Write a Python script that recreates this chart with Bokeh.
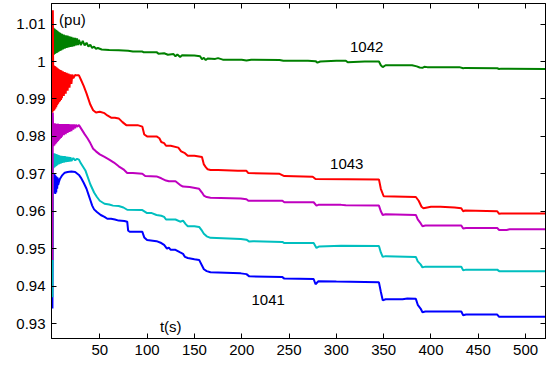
from bokeh.plotting import figure
from bokeh.models import Range1d, LinearAxis, FixedTicker
from bokeh.core.properties import value
from bokeh.embed import file_html
from bokeh.resources import INLINE

# ---------------- data ----------------
x_ticks = [50, 100, 150, 200, 250, 300, 350, 400, 450, 500]
y_ticks = [0.93, 0.94, 0.95, 0.96, 0.97, 0.98, 0.99, 1.0, 1.01]

t_1042 = [0, 0.5, 1, 1.5, 2, 2.5, 3, 3.5, 4, 4.5, 5, 5.5, 6, 6.5, 7, 7.5, 8, 8.5, 9, 9.5, 10,
          11, 12, 13, 14, 15, 16, 17, 18, 19, 20, 21, 22, 23, 24, 25, 26, 27, 28, 30, 32, 34, 36, 38, 40, 42, 44, 46, 48, 52,
          60, 70, 80, 85, 95, 96, 110, 112, 118, 122, 128, 130, 132, 135, 137,
          150, 156, 158, 160, 162, 164, 172, 175, 180, 200, 205, 210, 240, 244, 270, 278, 280, 283, 300, 310, 312, 318, 330,
          345, 347, 349, 352, 380, 385, 388, 391, 393, 396, 430, 434, 436, 470, 472, 474, 521]
v_1042 = [1.0090, 1.0017, 1.0090, 1.0018, 1.0088, 1.0020, 1.0086, 1.0022, 1.0084, 1.0023, 1.0082, 1.0025, 1.0080, 1.0026,
          1.0078, 1.0028, 1.0077, 1.0029, 1.0075, 1.0030, 1.0074,
          1.0032, 1.0072, 1.0034, 1.0070, 1.0036, 1.0069, 1.0038, 1.0067, 1.0039, 1.0066, 1.0040, 1.0064, 1.0041, 1.0063,
          1.0043, 1.0062, 1.0044, 1.0058, 1.0044, 1.0055, 1.0043, 1.0050, 1.0040, 1.0045, 1.0036, 1.0040, 1.0034, 1.0036,
          1.0032,
          1.0031, 1.0030, 1.0029, 1.0027, 1.0027, 1.0025, 1.0025, 1.0021, 1.0022, 1.0018, 1.0020, 1.0014, 1.0019, 1.0012,
          1.0017,
          1.0016, 1.0014, 1.0006, 1.0010, 1.0004, 1.0008, 1.0007, 1.0009, 1.0005, 1.0005, 1.0003, 1.0005, 1.0004, 1.0002,
          1.0002, 1.0001, 0.9997, 1.0000, 1.0002, 1.0002, 0.9998, 0.9999, 1.0000,
          1.0000, 0.9990, 0.9985, 0.9990, 0.9990, 0.9987, 0.9984, 0.9983, 0.9986, 0.9985, 0.9985, 0.9982, 0.9983,
          0.9982, 0.9980, 0.9981, 0.9980]

t_1043 = [0, 0.4, 1, 1.5, 2, 2.5, 3, 3.5, 4, 4.5, 5, 5.5, 6, 6.5, 7, 7.5, 8, 8.5, 9, 9.5, 10,
          11, 12, 13, 14, 15, 16, 17, 18, 19, 20, 21, 22, 24, 26, 28, 30, 33, 36, 40, 43, 46, 50, 55, 58, 62,
          66, 70, 74, 78, 90, 95, 97, 100,
          110, 113, 115, 118, 120, 125, 133, 136, 140, 143, 150, 158, 160, 162, 164, 167, 175, 196, 205, 207, 240, 245,
          275, 278, 345, 347, 350, 384, 387, 390, 392, 400, 410, 425, 432, 434, 436, 470, 472, 474, 521]
v_1043 = [0.9863, 1.0137, 0.9868, 0.9989, 0.9870, 0.9988, 0.9874, 0.9986, 0.9878, 0.9984, 0.9883, 0.9982, 0.9887, 0.9980,
          0.9891, 0.9978, 0.9894, 0.9977, 0.9897, 0.9976, 0.9902,
          0.9974, 0.9908, 0.9972, 0.9914, 0.9970, 0.9922, 0.9968, 0.9930, 0.9966, 0.9940, 0.9965, 0.9955, 0.9964, 0.9963,
          0.9963, 0.9952, 0.9935, 0.9915, 0.9885, 0.9870, 0.9864, 0.9866, 0.9862, 0.9856, 0.9850,
          0.9850, 0.9848, 0.9838, 0.9830, 0.9830, 0.9826, 0.9805, 0.9800,
          0.9800, 0.9795, 0.9785, 0.9782, 0.9775, 0.9775, 0.9770, 0.9760, 0.9755, 0.9748, 0.9748, 0.9745, 0.9725, 0.9718,
          0.9712, 0.9710, 0.9710, 0.9708, 0.9708, 0.9702, 0.9700, 0.9694, 0.9692, 0.9686, 0.9685, 0.9660, 0.9640,
          0.9638, 0.9628, 0.9612, 0.9608, 0.9612, 0.9612, 0.9610, 0.9608, 0.9600, 0.9602, 0.9600, 0.9593, 0.9594, 0.9594]

t_mag = [0, 0.4, 1, 1.5, 2, 2.5, 3, 3.5, 4, 4.5, 5, 5.5, 6, 6.5, 7, 7.5, 8, 8.5, 9, 9.5, 10,
         11, 12, 13, 14, 15, 16, 17, 18, 19, 20, 21, 22, 23, 24, 25, 26, 28, 30, 34, 37, 40, 43, 46, 50, 55,
         60, 65, 70, 75, 79, 85, 95, 98, 110, 115, 120, 123,
         130, 135, 138, 145, 155, 158, 160, 163, 167, 199, 205, 207, 243, 245, 276, 279, 281, 305, 310, 345, 347, 349,
         352, 384, 386, 389, 391, 394, 432, 434, 437, 470, 472, 480, 483, 521]
v_mag = [0.9470, 0.9863, 0.9774, 0.9835, 0.9776, 0.9835, 0.9779, 0.9834, 0.9782, 0.9834, 0.9785, 0.9834, 0.9788, 0.9833,
         0.9791, 0.9833, 0.9794, 0.9833, 0.9796, 0.9833, 0.9799,
         0.9833, 0.9803, 0.9833, 0.9806, 0.9833, 0.9809, 0.9833, 0.9812, 0.9832, 0.9814, 0.9832, 0.9818, 0.9832, 0.9822,
         0.9831, 0.9826, 0.9830, 0.9822, 0.9806, 0.9795, 0.9782, 0.9767, 0.9760, 0.9752, 0.9745,
         0.9738, 0.9730, 0.9720, 0.9712, 0.9702, 0.9702, 0.9700, 0.9694, 0.9693, 0.9688, 0.9682, 0.9680,
         0.9680, 0.9670, 0.9666, 0.9665, 0.9660, 0.9650, 0.9642, 0.9638, 0.9636, 0.9634, 0.9632, 0.9628, 0.9628, 0.9624,
         0.9624, 0.9615, 0.9617, 0.9617, 0.9616, 0.9615, 0.9600, 0.9590,
         0.9592, 0.9590, 0.9578, 0.9568, 0.9560, 0.9562, 0.9562, 0.9554, 0.9555, 0.9555, 0.9550, 0.9550, 0.9552, 0.9552]

t_cyan = [0, 0.4, 1, 1.5, 2, 2.5, 3, 3.5, 4, 4.5, 5, 5.5, 6, 6.5, 7, 7.5, 8, 8.5, 9, 9.5, 10,
          11, 12, 13, 14, 15, 16, 17, 18, 19, 20, 22, 24, 26, 28, 30, 35, 40, 44, 47, 50, 55,
          60, 64, 70, 75, 79, 95, 100, 105, 110, 115, 118,
          120, 130, 135, 138, 141, 143, 150, 155, 158, 160, 163, 167, 199, 205, 208, 212, 243, 245, 276, 279, 282, 305,
          345, 347, 349, 352, 384, 386, 389, 391, 394, 432, 434, 437, 470, 472, 521]
v_cyan = [0.9370, 0.9755, 0.9715, 0.9755, 0.9717, 0.9754, 0.9719, 0.9753, 0.9721, 0.9752, 0.9723, 0.9751, 0.9725, 0.9750,
          0.9726, 0.9749, 0.9727, 0.9748, 0.9728, 0.9748, 0.9729,
          0.9747, 0.9730, 0.9747, 0.9731, 0.9746, 0.9732, 0.9745, 0.9733, 0.9744, 0.9734, 0.9742, 0.9736, 0.9740, 0.9738,
          0.9728, 0.9708, 0.9672, 0.9650, 0.9638, 0.9628, 0.9620,
          0.9618, 0.9615, 0.9614, 0.9610, 0.9604, 0.9603, 0.9595, 0.9595, 0.9590, 0.9588, 0.9585,
          0.9578, 0.9578, 0.9572, 0.9575, 0.9565, 0.9560, 0.9560, 0.9558, 0.9548, 0.9540, 0.9533, 0.9529, 0.9526, 0.9524,
          0.9519, 0.9520, 0.9518, 0.9515, 0.9515, 0.9502, 0.9506, 0.9508,
          0.9507, 0.9490, 0.9478, 0.9480, 0.9478, 0.9466, 0.9458, 0.9450, 0.9452, 0.9452, 0.9442, 0.9444, 0.9444, 0.9440,
          0.9440]

t_1041 = [0, 0.4, 1, 1.5, 2, 2.5, 3, 3.5, 4, 4.5, 5, 5.5, 6, 7, 8, 10, 13, 16, 20, 24, 28, 30, 33, 36, 38, 40, 42, 44,
          47, 51, 55, 58, 62, 66, 70, 76, 79, 80, 82, 95, 97, 100,
          110, 115, 118, 121, 123, 125, 130, 135, 138, 140, 143, 150, 155, 158, 160, 163, 167, 199, 205, 208, 243, 245,
          276, 278, 281, 300, 345, 347, 349, 352, 370, 375, 384, 386, 389, 391, 394, 432, 434, 437, 470, 472, 521]
v_1041 = [0.9340, 0.9700, 0.9650, 0.9700, 0.9648, 0.9698, 0.9646, 0.9695, 0.9650, 0.9692, 0.9660, 0.9690, 0.9670,
          0.9680, 0.9687, 0.9695, 0.9703, 0.9705, 0.9706, 0.9705, 0.9697, 0.9690, 0.9676, 0.9660, 0.9645, 0.9630, 0.9615,
          0.9605, 0.9598, 0.9590, 0.9585, 0.9580, 0.9580, 0.9578, 0.9575, 0.9574, 0.9572, 0.9548, 0.9545, 0.9545, 0.9530,
          0.9523,
          0.9520, 0.9515, 0.9510, 0.9500, 0.9503, 0.9497, 0.9497, 0.9490, 0.9486, 0.9478, 0.9475, 0.9472, 0.9470, 0.9455,
          0.9445, 0.9440, 0.9437, 0.9434, 0.9432, 0.9426, 0.9424, 0.9420,
          0.9419, 0.9405, 0.9413, 0.9412, 0.9410, 0.9385, 0.9362, 0.9365, 0.9365, 0.9367, 0.9366, 0.9350, 0.9340, 0.9330,
          0.9332, 0.9332, 0.9322, 0.9324, 0.9324, 0.9318, 0.9318]

label_text = ["1042", "1043", "1041"]
label_x = [332, 311, 228]
label_y = [1.0038, 0.9725, 0.9364]

unit_text = ["(pu)"]
unit_x = [7]
unit_y = [1.0111]
xname_text = ["t(s)"]
xname_x = [125]
xname_y = [0.9292]

# ---------------- figure ----------------
FONT = "Liberation Sans"
FS = "15px"
p = figure(width=549, height=365, output_backend="svg", toolbar_location=None,
           x_range=Range1d(-1, 521), y_range=Range1d(0.9260, 1.0155),
           min_border_left=51, min_border_right=4, min_border_top=3, min_border_bottom=27)
p.xgrid.visible = False
p.ygrid.visible = False
p.outline_line_color = "black"
p.outline_line_width = 1
p.background_fill_color = "white"
p.border_fill_color = "white"

def style_axis(ax, ticks, labels=True):
    ax.ticker = FixedTicker(ticks=ticks)
    ax.axis_line_color = "black"
    ax.major_tick_line_color = "black"
    ax.major_tick_in = 5
    ax.major_tick_out = 0
    ax.minor_tick_line_color = None
    ax.major_label_text_font = FONT
    ax.major_label_text_font_size = FS
    ax.major_label_text_color = "black"
    ax.major_label_standoff = 6
    if not labels:
        ax.major_label_text_color = None
        ax.major_label_text_font_size = "1px"
        ax.major_label_standoff = 0

style_axis(p.xaxis[0], x_ticks)
style_axis(p.yaxis[0], y_ticks)
p.yaxis[0].major_label_overrides = {1: "1"}

top = LinearAxis()
style_axis(top, x_ticks, labels=False)
p.add_layout(top, "above")
right = LinearAxis()
style_axis(right, y_ticks, labels=False)
p.add_layout(right, "right")

LW = 2
p.line(t_1041, v_1041, line_color="#0000FF", line_width=LW)
p.line(t_1042, v_1042, line_color="#008000", line_width=LW)
p.line(t_1043, v_1043, line_color="#FF0000", line_width=LW)
p.line(t_cyan, v_cyan, line_color="#00BFBF", line_width=LW)
p.line(t_mag, v_mag, line_color="#BF00BF", line_width=LW)

p.text(label_x, label_y, text=label_text, text_font=value(FONT), text_font_size=FS,
       text_align="center", text_baseline="middle", text_color="black")
p.text(unit_x, unit_y, text=unit_text, text_font=value(FONT), text_font_size=FS,
       text_align="left", text_baseline="middle", text_color="black")
p.text(xname_x, xname_y, text=xname_text, text_font=value(FONT), text_font_size=FS,
       text_align="center", text_baseline="middle", text_color="black")

open("out.html", "w").write(file_html(p, INLINE))
